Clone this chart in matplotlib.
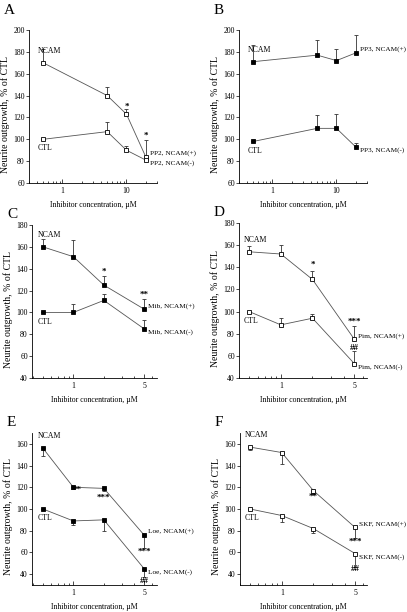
import matplotlib.pyplot as plt
from matplotlib.ticker import FixedLocator, FixedFormatter, LogLocator, NullFormatter

plt.rcParams['font.family'] = ['Liberation Serif', 'DejaVu Serif']

# concentrations, uM
conc_ab = [0.5, 5, 10, 20]
conc_cf = [0.5, 1, 2, 5]

# A: PP2 (open squares)
a_ncam = [170, 140, 123, 84]
a_ncam_err = [13, 8, 5, 15]
a_ctl = [100, 107, 90, 81]
a_ctl_err = [0, 9, 4, 2]

# B: PP3 (filled)
b_ncam = [171, 177, 172, 179]
b_ncam_err = [15, 14, 11, 16]
b_ctl = [98, 110, 110, 93]
b_ctl_err = [0, 12, 13, 4]

# C: Mib (filled)
c_ncam = [160, 151, 125, 103]
c_ncam_err = [7, 15, 8, 9]
c_ctl = [100, 100, 111, 85]
c_ctl_err = [0, 8, 6, 8]

# D: Pim (open)
d_ncam = [154, 152, 129, 75]
d_ncam_err = [5, 8, 8, 12]
d_ctl = [100, 88, 94, 53]
d_ctl_err = [0, 6, 4, 11]

# E: Loe (filled), error bars drawn downward
e_ncam = [156, 120, 119, 76]
e_ncam_err = [7, 2, 2, 12]
e_ctl = [100, 89, 90, 45]
e_ctl_err = [0, 4, 10, 8]

# F: SKF (open), error bars drawn downward
f_ncam = [157, 152, 117, 83]
f_ncam_err = [3, 11, 3, 10]
f_ctl = [100, 94, 82, 59]
f_ctl_err = [0, 6, 4, 12]

W, H = 407, 612
fig = plt.figure(figsize=(W / 100, H / 100), dpi=100)
FS = 5.6


def box(l, r, t, b):
    return [l / W, 1 - b / H, (r - l) / W, (b - t) / H]


def panel(rect, letter, x, ncam, ncam_err, ctl, ctl_err, filled, down,
          xlim, ylim, yticks, xticks, drug, stars, letter_y):
    ax = fig.add_axes(rect)
    ax.set_xscale('log')
    face = 'black' if filled else 'white'
    for y, e in [(ncam, ncam_err), (ctl, ctl_err)]:
        if down:
            yerr = [e, [0] * len(e)]
        else:
            yerr = [[0] * len(e), e]
        ax.errorbar(x, y, yerr=yerr, color='#555555', lw=0.6, elinewidth=0.6,
                    capsize=1.6, capthick=0.6, marker='s', ms=3.0,
                    mfc=face, mec='black', mew=0.6, ecolor='#333333')
    ax.set_xlim(*xlim)
    ax.set_ylim(*ylim)
    ax.set_yticks(yticks)
    ax.xaxis.set_major_locator(FixedLocator(xticks))
    ax.xaxis.set_major_formatter(FixedFormatter([str(t) for t in xticks]))
    ax.xaxis.set_minor_locator(LogLocator(subs=range(2, 10)))
    ax.xaxis.set_minor_formatter(NullFormatter())
    for s in ['top', 'right']:
        ax.spines[s].set_visible(False)
    for s in ['left', 'bottom']:
        ax.spines[s].set_linewidth(0.6)
    ax.tick_params(axis='y', direction='out', length=2, width=0.5,
                   labelsize=FS, pad=1)
    ax.tick_params(axis='x', which='both', direction='in', width=0.5,
                   labelsize=FS, pad=3)
    ax.tick_params(axis='x', which='major', length=3)
    ax.tick_params(axis='x', which='minor', length=1.6)
    ax.set_ylabel('Neurite outgrowth, % of CTL', fontsize=7)
    ax.yaxis.set_label_coords(-0.148, 0.45)
    ax.set_xlabel('Inhibitor concentration, \u00b5M', fontsize=FS, labelpad=4)
    ax.text(-0.2, letter_y, letter, transform=ax.transAxes, fontsize=11,
            va='top', ha='left')
    ax.annotate('NCAM', (x[0], ncam[0]), xytext=(-4, 7),
                textcoords='offset points', fontsize=FS)
    ax.annotate('CTL', (x[0], ctl[0]), xytext=(-4, -8),
                textcoords='offset points', fontsize=FS)
    ax.annotate(drug + ', NCAM(+)', (x[-1], ncam[-1]), xytext=(3, 2.5),
                textcoords='offset points', fontsize=5.2, va='center')
    ax.annotate(drug + ', NCAM(-)', (x[-1], ctl[-1]), xytext=(3, -2.5),
                textcoords='offset points', fontsize=5.2, va='center')
    for sx, sy, s in stars:
        ax.text(sx, sy, s, ha='center', va='center', fontsize=6.5,
                fontweight='bold')
    return ax


panel(box(29, 157, 30, 183), 'A', conc_ab, a_ncam, a_ncam_err, a_ctl, a_ctl_err,
      False, False, (0.3, 30), (60, 200), range(60, 201, 20), [1, 10], 'PP2',
      [(10, 130, '*'), (20, 103, '*')], 1.17)
panel(box(239, 367, 30, 183), 'B', conc_ab, b_ncam, b_ncam_err, b_ctl, b_ctl_err,
      True, False, (0.3, 30), (60, 200), range(60, 201, 20), [1, 10], 'PP3', [],
      1.17)
panel(box(32, 157, 225, 378), 'C', conc_cf, c_ncam, c_ncam_err, c_ctl, c_ctl_err,
      True, False, (0.39, 6.7), (40, 180), range(40, 181, 20), [1, 5], 'Mib',
      [(2, 137, '*'), (5, 116, '**')], 1.11)
panel(box(239, 367, 223, 378), 'D', conc_cf, d_ncam, d_ncam_err, d_ctl, d_ctl_err,
      False, False, (0.4, 6.6), (40, 180), range(40, 181, 20), [1, 5], 'Pim',
      [(2, 142, '*'), (5, 91, '***'), (5, 67, '##')], 1.11)
panel(box(32, 157, 433, 585), 'E', conc_cf, e_ncam, e_ncam_err, e_ctl, e_ctl_err,
      True, True, (0.39, 6.7), (30, 170), range(40, 161, 20), [1, 5], 'Loe',
      [(1.08, 118, '**'), (2, 110, '***'), (5, 61, '***'), (5, 34, '##')], 1.11)
panel(box(240, 367, 433, 585), 'F', conc_cf, f_ncam, f_ncam_err, f_ctl, f_ctl_err,
      False, True, (0.4, 6.5), (30, 170), range(40, 161, 20), [1, 5], 'SKF',
      [(2, 111, '**'), (5, 70, '***'), (5, 45, '##')], 1.11)

fig.savefig('out.png', dpi=100)
